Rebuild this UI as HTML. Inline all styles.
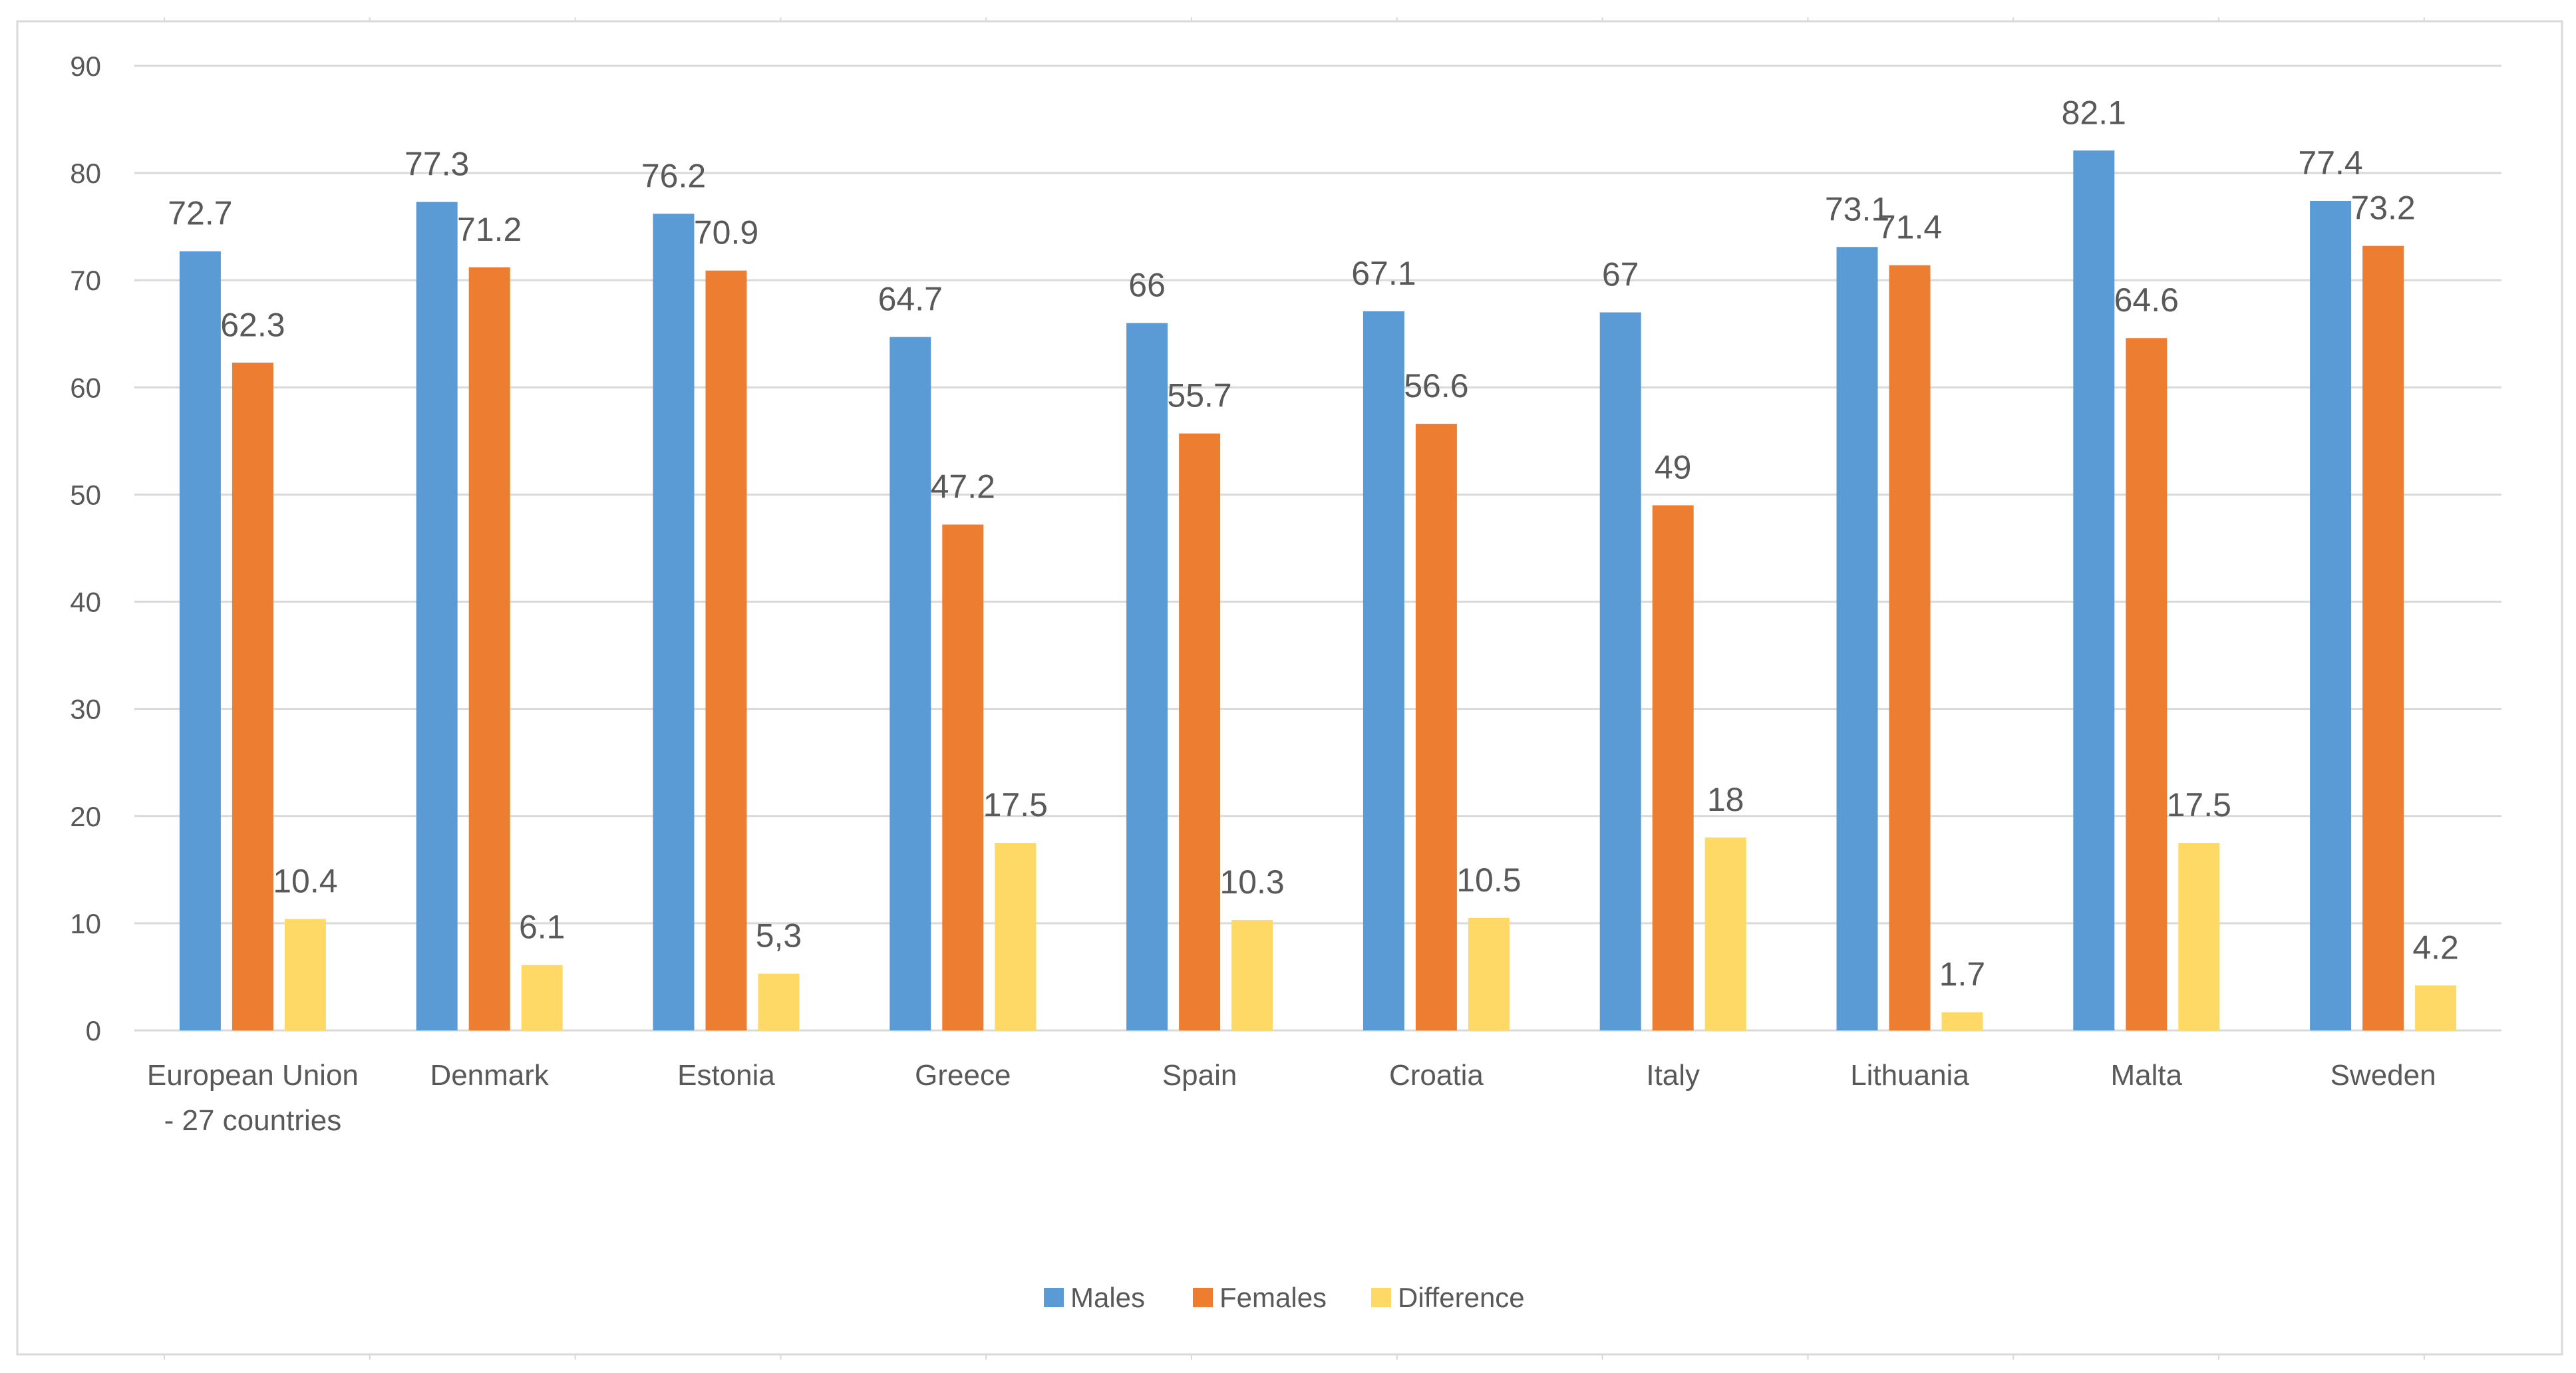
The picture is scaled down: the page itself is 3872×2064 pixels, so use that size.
<!DOCTYPE html>
<html><head><meta charset="utf-8"><style>
html,body{margin:0;padding:0;background:#fff}
svg{display:block}
text{font-family:"Liberation Sans",sans-serif;fill:#595959}
</style></head><body>
<svg id="chart" width="3872" height="2064" viewBox="0 0 3872 2064" xmlns="http://www.w3.org/2000/svg">
<rect x="26" y="32" width="3825" height="2004" fill="#fff" stroke="#d9d9d9" stroke-width="3"/>
<g id="grid"></g><g id="bars"></g><g id="labels"></g><g id="legend"></g>
</svg>
<script>
const categories=[["European Union","- 27 countries"],["Denmark"],["Estonia"],["Greece"],["Spain"],["Croatia"],["Italy"],["Lithuania"],["Malta"],["Sweden"]];
const males=[72.7,77.3,76.2,64.7,66,67.1,67,73.1,82.1,77.4];
const females=[62.3,71.2,70.9,47.2,55.7,56.6,49,71.4,64.6,73.2];
const difference=[10.4,6.1,5.3,17.5,10.3,10.5,18,1.7,17.5,4.2];
const diffLabels=["10.4","6.1","5,3","17.5","10.3","10.5","18","1.7","17.5","4.2"];
const yTicks=[0,10,20,30,40,50,60,70,80,90];
const seriesNames=["Males","Females","Difference"];

const NS="http://www.w3.org/2000/svg";
const X0=202,X1=3760,Y0=1549,Y90=99;
const yScale=v=>Y0-(v/90)*(Y0-Y90);
const catW=(X1-X0)/categories.length;
const xCenter=i=>X0+catW*(i+0.5);
const colors=["#5b9bd5","#ed7d31","#ffd966"];
const barW=62,step=79;
function mk(tag,attrs,parent){const e=document.createElementNS(NS,tag);for(const k in attrs)e.setAttribute(k,attrs[k]);parent.appendChild(e);return e;}
const grid=document.getElementById('grid'),bars=document.getElementById('bars'),labels=document.getElementById('labels'),legend=document.getElementById('legend');
const svg=document.getElementById('chart');
for(let x=247;x<3700;x+=308.8){
  let t1=mk('line',{x1:x,x2:x,y1:26,y2:32,stroke:'#d9d9d9','stroke-width':2},svg);
  
  
  let t2=mk('line',{x1:x,x2:x,y1:2036,y2:2044,stroke:'#d9d9d9','stroke-width':2},svg);
  
  
}
yTicks.forEach(v=>{
  const y=yScale(v);
  const l=mk('line',{x1:X0,x2:X1,y1:y,y2:y,stroke:'#d9d9d9','stroke-width':3},grid);
  
  
  const t=mk('text',{x:152,y:y+15,'text-anchor':'end','font-size':42},grid);
  t.textContent=v;
  
  
});
const series=[males,females,difference];
categories.forEach((c,i)=>{
  series.forEach((s,k)=>{
    const cx=xCenter(i)+(k-1)*step;
    const y=yScale(s[i]);
    const r=mk('rect',{x:cx-barW/2,y:y,width:barW,height:Y0-y,fill:colors[k]},bars);
    
    
    const t=mk('text',{x:cx,y:y-40,'text-anchor':'middle','font-size':50},labels);
    t.textContent=k===2?diffLabels[i]:String(s[i]);
    
    
  });
  c.forEach((line,j)=>{
    const t=mk('text',{x:xCenter(i),y:1631+j*68,'text-anchor':'middle','font-size':44},labels);
    t.textContent=line;
    
    
  });
});
const legX=[1569,1793,2061];
seriesNames.forEach((n,k)=>{
  const r=mk('rect',{x:legX[k],y:1936,width:30,height:29,fill:colors[k]},legend);
  
  
  const t=mk('text',{x:legX[k]+40,y:1965,'font-size':42},legend);
  t.textContent=n;
  
  
});
</script>
</body></html>
